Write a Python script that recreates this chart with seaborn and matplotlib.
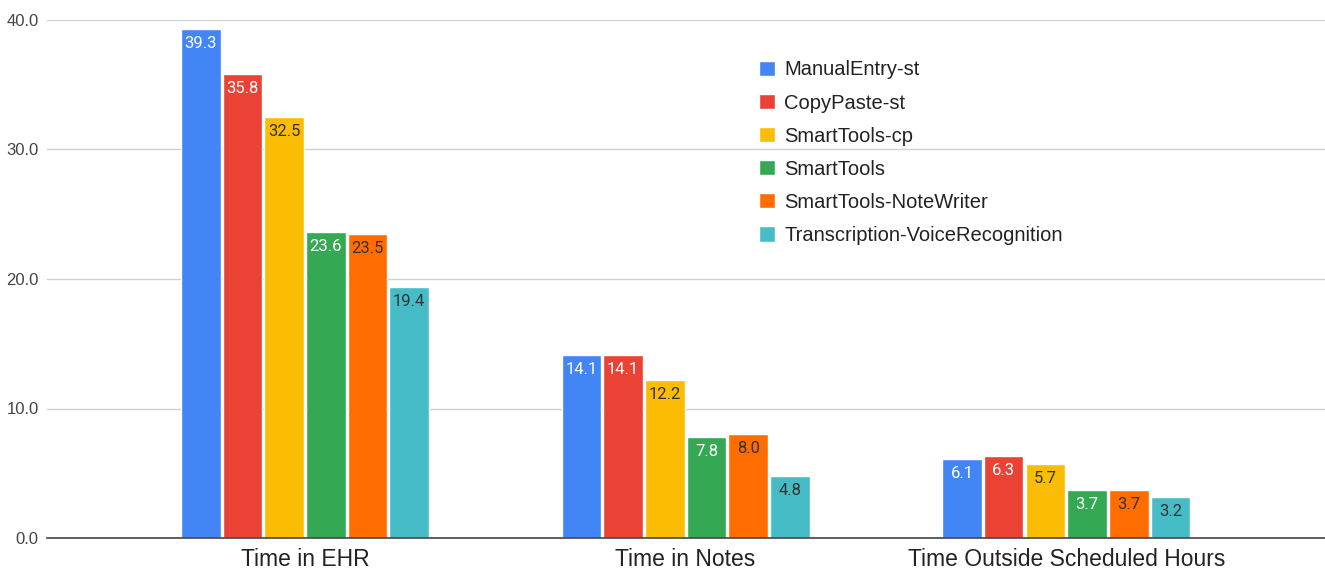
import matplotlib
matplotlib.use("Agg")
import matplotlib.pyplot as plt
import seaborn as sns
import pandas as pd

# Data
categories = ["Time in EHR", "Time in Notes", "Time Outside Scheduled Hours"]
series = ["ManualEntry-st", "CopyPaste-st", "SmartTools-cp", "SmartTools",
          "SmartTools-NoteWriter", "Transcription-VoiceRecognition"]
manual_entry = [39.3, 14.1, 6.1]
copy_paste = [35.8, 14.1, 6.3]
smarttools_cp = [32.5, 12.2, 5.7]
smarttools = [23.6, 7.8, 3.7]
smarttools_notewriter = [23.5, 8.0, 3.7]
transcription = [19.4, 4.8, 3.2]
yticks = [0, 10, 20, 30, 40]

values = [manual_entry, copy_paste, smarttools_cp, smarttools,
          smarttools_notewriter, transcription]
rows = []
for name, vals in zip(series, values):
    for cat, v in zip(categories, vals):
        rows.append({"Category": cat, "Series": name, "Value": v})
df = pd.DataFrame(rows)

colors = ["#4285F4", "#EA4335", "#FBBC04", "#34A853", "#FF6D01", "#46BDC6"]
label_colors = ["white", "white", "#333333", "white", "#333333", "#333333"]

sns.set_theme(style="white")
plt.rcParams["font.family"] = ["Liberation Sans", "DejaVu Sans"]

fig = plt.figure(figsize=(13.25, 5.71), dpi=100)
ax = fig.add_axes([47 / 1325, 1 - 538 / 571, 1 - 47 / 1325, (538 - 20) / 571])

sns.barplot(data=df, x="Category", y="Value", hue="Series", hue_order=series,
            order=categories, palette=colors, width=0.657, gap=0.05,
            saturation=1, ax=ax, legend=True, errorbar=None)

ax.set_ylim(0, 40)
ax.set_xlim(-0.678, 2.68)
ax.set_yticks(yticks)
ax.set_yticklabels([f"{t:.1f}" for t in yticks])
ax.yaxis.grid(True, color="#d0d0d0", linewidth=1)
ax.set_axisbelow(True)
ax.set_xlabel("")
ax.set_ylabel("")
for side in ["top", "right", "left"]:
    ax.spines[side].set_visible(False)
ax.spines["bottom"].set_color("#444444")
ax.spines["bottom"].set_linewidth(1.2)
ax.tick_params(axis="y", length=0, labelsize=12, labelcolor="#444444", pad=6)
ax.tick_params(axis="x", length=0, labelsize=16.5, labelcolor="#222222", pad=7)

# Value labels inside the top of each bar
for container, name, lc in zip(ax.containers, series, label_colors):
    for bar in container:
        h = bar.get_height()
        ax.annotate(f"{h:.1f}", (bar.get_x() + bar.get_width() / 2, h),
                    xytext=(0, -5), textcoords="offset points",
                    ha="center", va="top", fontsize=12, color=lc,
                    family=["Roboto", "DejaVu Sans"])

leg = ax.legend(loc="upper left", bbox_to_anchor=(0.557, 0.922), frameon=False,
                fontsize=14.5, handlelength=0.8, handleheight=0.8,
                labelspacing=0.7, handletextpad=0.45, borderpad=0,
                borderaxespad=0)
for t in leg.get_texts():
    t.set_color("#222222")

fig.savefig("out.png", dpi=100)
